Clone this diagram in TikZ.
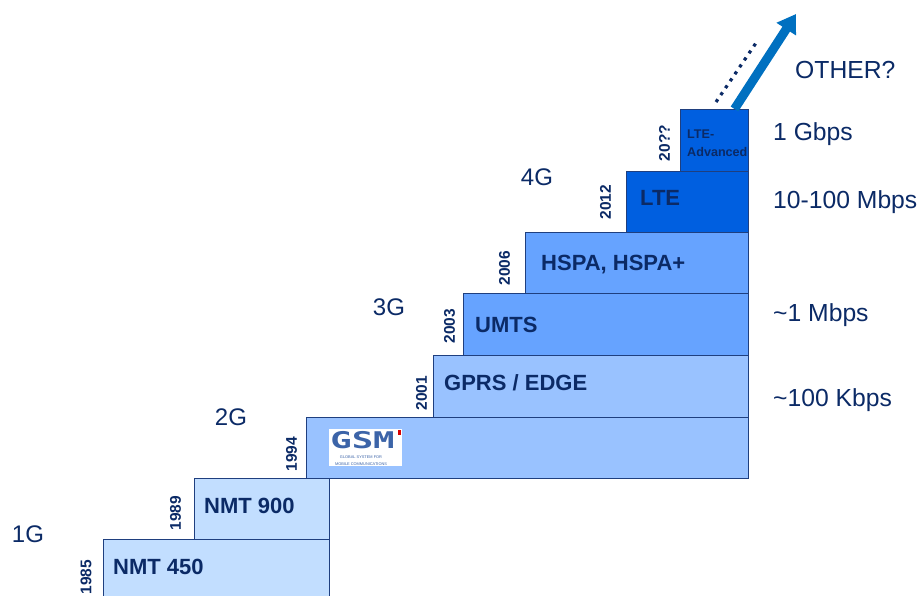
\documentclass[tikz,border=0pt]{standalone}
\usepackage{fontspec}
\setmainfont{Liberation Sans}
\newfontfamily\logofont{DejaVu Sans Mono}
\usetikzlibrary{arrows.meta}
\definecolor{ink}{HTML}{0B2A66}
\definecolor{edge}{HTML}{1F3F7F}
\definecolor{cA}{HTML}{C2DEFF}
\definecolor{cB}{HTML}{99C2FF}
\definecolor{cC}{HTML}{66A3FF}
\definecolor{cD}{HTML}{005FE0}
\definecolor{arrowc}{HTML}{0070C0}
\definecolor{logo}{HTML}{3C64A8}
\tikzset{
  x=1pt,y=-1pt,
  stepbox/.style={draw=edge,line width=0.9pt},
  techlabel/.style={font=\bfseries\fontsize{22}{24}\selectfont,text=ink,anchor=west,inner sep=0pt},
  yearlabel/.style={font=\bfseries\fontsize{15.5}{16}\selectfont,text=ink,rotate=90,inner sep=0pt},
  genlabel/.style={font=\fontsize{24}{26}\selectfont,text=ink,inner sep=0pt},
  ratelabel/.style={font=\fontsize{24.7}{26}\selectfont,text=ink,anchor=west,inner sep=0pt},
}
\begin{document}
\begin{tikzpicture}
\useasboundingbox (0,0) rectangle (919,596);
\begin{scope}
\clip (0,0) rectangle (919,596);
\filldraw[stepbox,fill=cA] (103,539) rectangle (329.5,610);
\end{scope}
\filldraw[stepbox,fill=cA] (194,478) rectangle (329.5,539);
\filldraw[stepbox,fill=cB] (306,417) rectangle (748.5,478);
\filldraw[stepbox,fill=cB] (433.5,355) rectangle (748.5,417);
\filldraw[stepbox,fill=cC] (463.5,293) rectangle (748.5,355);
\filldraw[stepbox,fill=cC] (525.5,232) rectangle (748.5,293);
\filldraw[stepbox,fill=cD] (626.5,171) rectangle (748.5,232);
\filldraw[stepbox,fill=cD] (680.5,109) rectangle (748.5,171);
% arrow and dots
\coordinate (arrowstart) at (734.5,109);
\coordinate (arrowend) at (796,14);
\draw[arrowc,line width=9pt,-{Triangle[length=18pt,width=22pt]}] (arrowstart) -- (arrowend);
\coordinate (dotsstart) at (716,102);
\coordinate (dotsend) at (756,43);
\draw[ink,line width=3.2pt,dash pattern=on 3.2pt off 5.2pt] (dotsstart) -- (dotsend);
% labels in steps
\node[techlabel] (nmt450) at (113,567) {NMT 450};
\node[techlabel] (nmt900) at (204,506) {NMT 900};
\node[techlabel] (gprs) at (444,383) {GPRS / EDGE};
\node[techlabel] (umts) at (475,325) {UMTS};
\node[techlabel] (hspa) at (541,265) {HSPA, HSPA+};
\node[techlabel] (lte) at (640,198) {LTE};
\node[font=\bfseries\fontsize{12.6}{18}\selectfont,text=ink,anchor=west,inner sep=0pt,align=left] (ltea) at (687,143) {LTE-\\Advanced};
% years
\node[yearlabel] (y85) at (86,577) {1985};
\node[yearlabel] (y89) at (175.5,513) {1989};
\node[yearlabel] (y94) at (291.5,454) {1994};
\node[yearlabel] (y01) at (421.5,393) {2001};
\node[yearlabel] (y03) at (449.5,326) {2003};
\node[yearlabel] (y06) at (504.5,268) {2006};
\node[yearlabel] (y12) at (605.5,202) {2012};
\node[yearlabel] (y20) at (664.5,143) {20??};
% generations
\node[genlabel] (g1) at (28,534) {1G};
\node[genlabel] (g2) at (231,417) {2G};
\node[genlabel] (g3) at (389,307) {3G};
\node[genlabel] (g4) at (537,177) {4G};
% rates
\node[ratelabel] (other) at (795,70) {OTHER?};
\node[ratelabel] (r1) at (773,134) {1 Gbps};
\node[ratelabel] (r2) at (773,202) {10-100 Mbps};
\node[ratelabel] (r3) at (773,315) {\textasciitilde1 Mbps};
\node[ratelabel] (r4) at (773,400) {\textasciitilde100 Kbps};
% GSM logo
\fill[white] (329,429) rectangle (402,466);
\node[font=\logofont\bfseries\fontsize{23}{23}\selectfont,text=logo,anchor=center,inner sep=0pt,xscale=1.55] (gsmword) at (362.5,440.5) {GSM};
\fill[red!85!black] (398,430) rectangle (401,435);
\node[font=\fontsize{3.9}{7.5}\selectfont,text=logo,align=center,inner sep=0pt] (gsmsub) at (361,460.5) {GLOBAL SYSTEM FOR\\MOBILE COMMUNICATIONS};
\end{tikzpicture}
\end{document}
